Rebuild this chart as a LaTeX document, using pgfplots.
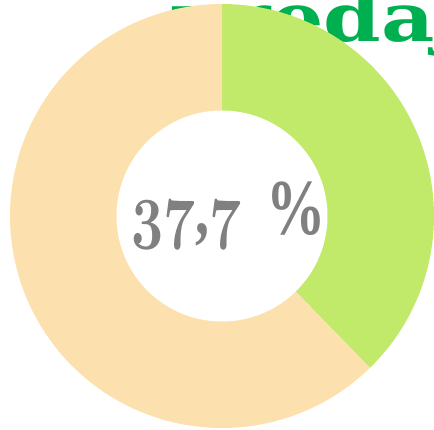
\RequirePackage{fix-cm}
\documentclass[border=0pt]{standalone}
\usepackage{fontspec}
\usepackage{pgfplots}
\pgfplotsset{compat=1.18}
\usepackage{pgfplotstable}

\newfontfamily\titlefont{DejaVu Serif}
\newfontfamily\pctfont{Liberation Serif}
\newcommand\osf[1]{{\usefont{OML}{cmm}{b}{it}#1}}

\definecolor{ringgreen}{RGB}{193,233,106}
\definecolor{ringpeach}{RGB}{252,224,173}
\definecolor{titlegreen}{RGB}{0,176,80}
\definecolor{labelgray}{RGB}{128,128,128}

% share of the ring, in percent
\pgfplotstableread{
part    share
predaj  37.7
ostatne 62.3
}\shares

\begin{document}
\begin{tikzpicture}
\pgfplotstablegetelem{0}{share}\of\shares
\let\sA\pgfplotsretval
\pgfmathsetmacro\angA{3.6*\sA}
\begin{axis}[
    hide axis, scale only axis,
    width=434pt, height=429pt,
    xmin=-222, xmax=212, ymin=-213, ymax=216,
    clip mode=global,
  ]
  % title sits behind the ring and runs off the top
  \node[anchor=base west, text=titlegreen, xscale=1.23, inner sep=0pt]
    at (axis cs:-52,174)
    {\fontsize{67}{67}\selectfont\titlefont\bfseries predaj};
  \addplot[draw=none, fill=ringgreen, domain=0:\angA, samples=120, variable=\t]
    ({212*sin(\t)},{212*cos(\t)}) -- (axis cs:0,0) -- cycle;
  \addplot[draw=none, fill=ringpeach, domain=\angA:360, samples=180, variable=\t]
    ({212*sin(\t)},{212*cos(\t)}) -- (axis cs:0,0) -- cycle;
  \addplot[draw=none, fill=white, domain=0:360, samples=181, variable=\t]
    ({105.5*sin(\t)},{105.5*cos(\t)}) -- cycle;
  \node[anchor=base west, text=labelgray, inner sep=0pt, xscale=0.9, yscale=1.2]
    at (axis cs:-91,-19)
    {\fontsize{62}{62}\selectfont\osf{37}{\pctfont\bfseries ,}\osf{7}\hspace{0.45em}{\fontsize{66}{66}\selectfont\pctfont\bfseries\%}};
\end{axis}
\pgfresetboundingbox
\useasboundingbox (current axis.south west) rectangle (current axis.north east);
\end{tikzpicture}
\end{document}
